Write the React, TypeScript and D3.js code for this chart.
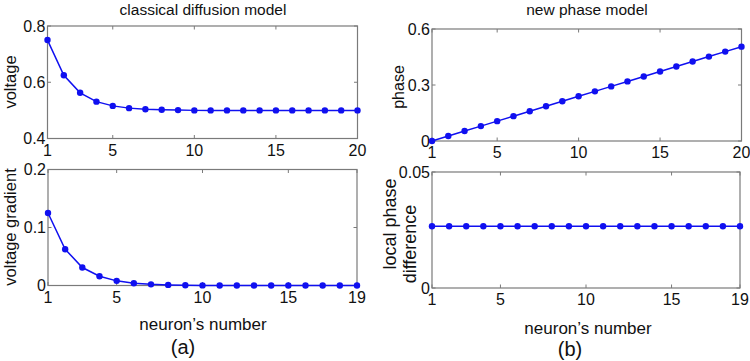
import React from "react";
import * as d3 from "d3";

// Neuron indices
const neurons20 = d3.range(1, 21);
const neurons19 = d3.range(1, 20);

// Classical diffusion model
const voltage = [0.75, 0.625, 0.5625, 0.531, 0.516, 0.508, 0.504, 0.502, 0.501, 0.5, 0.5, 0.5, 0.5, 0.5, 0.5, 0.5, 0.5, 0.5, 0.5, 0.5];
const voltageGradient = [0.125, 0.0625, 0.031, 0.016, 0.008, 0.004, 0.002, 0.001, 0.0005, 0.0002, 0.0001, 0, 0, 0, 0, 0, 0, 0, 0];

// New phase model
const phase = [0, 0.0266, 0.0532, 0.0798, 0.1064, 0.133, 0.1596, 0.1862, 0.2128, 0.2394, 0.266, 0.2926, 0.3192, 0.3458, 0.3724, 0.399, 0.4256, 0.4522, 0.4788, 0.5054];
const localPhaseDiff = [0.0266, 0.0266, 0.0266, 0.0266, 0.0266, 0.0266, 0.0266, 0.0266, 0.0266, 0.0266, 0.0266, 0.0266, 0.0266, 0.0266, 0.0266, 0.0266, 0.0266, 0.0266, 0.0266];

const xTicks20 = [1, 5, 10, 15, 20];
const xTicks19 = [1, 5, 10, 15, 19];
const yTicksVoltage = [0.4, 0.6, 0.8];
const yTicksGradient = [0, 0.1, 0.2];
const yTicksPhase = [0, 0.3, 0.6];
const yTicksDiff = [0, 0.05];

const FONT = "'Liberation Sans', Arial, Helvetica, sans-serif";
const AXIS = "#7a7a7a";
const BLUE = "#1010f0";
const INK = "#111";

type PanelProps = {
  x0: number; x1: number; y0: number; y1: number;
  xs: number[]; ys: number[];
  xDomain: [number, number]; yDomain: [number, number];
  xTicks: number[]; yTicks: number[];
};

function Panel({ x0, x1, y0, y1, xs, ys, xDomain, yDomain, xTicks, yTicks }: PanelProps) {
  const x = d3.scaleLinear().domain(xDomain).range([x0, x1]);
  const y = d3.scaleLinear().domain(yDomain).range([y1, y0]);
  const pts = xs.map((v, i) => [x(v), y(ys[i])] as [number, number]);
  const line = d3.line()(pts) || "";
  const tl = 3.5;
  return (
    <g>
      <rect x={x0} y={y0} width={x1 - x0} height={y1 - y0} fill="#fff" stroke={AXIS} strokeWidth={1.2} />
      {xTicks.map((t) => (
        <g key={"x" + t}>
          <line x1={x(t)} x2={x(t)} y1={y1} y2={y1 - tl} stroke={AXIS} strokeWidth={1} />
          <line x1={x(t)} x2={x(t)} y1={y0} y2={y0 + tl} stroke={AXIS} strokeWidth={1} />
          <text x={x(t)} y={y1 + 17} textAnchor="middle" fontSize={16} fontFamily={FONT} fill={INK}>{t}</text>
        </g>
      ))}
      {yTicks.map((t) => (
        <g key={"y" + t}>
          <line x1={x0} x2={x0 + tl} y1={y(t)} y2={y(t)} stroke={AXIS} strokeWidth={1} />
          <line x1={x1} x2={x1 - tl} y1={y(t)} y2={y(t)} stroke={AXIS} strokeWidth={1} />
          <text x={x0 - 2} y={y(t) + 5.5} textAnchor="end" fontSize={16} fontFamily={FONT} fill={INK}>{t}</text>
        </g>
      ))}
      <path d={line} fill="none" stroke={BLUE} strokeWidth={1.5} />
      {pts.map((p, i) => (
        <circle key={i} cx={p[0]} cy={p[1]} r={3.2} fill={BLUE} />
      ))}
    </g>
  );
}

function VLabel({ x, y, size, children }: { x: number; y: number; size: number; children: React.ReactNode }) {
  return (
    <text transform={`translate(${x},${y}) rotate(-90)`} textAnchor="middle" fontSize={size} fontFamily={FONT} fill={INK}>
      {children}
    </text>
  );
}

export default function App() {
  return (
    <svg width={750} height={361} style={{ position: "absolute", left: 0, top: 0, background: "#fff" }}>
      <rect width={750} height={361} fill="#fff" />
      <text x={203} y={15} textAnchor="middle" fontSize={15.5} fontFamily={FONT} fill={INK}>classical diffusion model</text>
      <text x={587} y={15} textAnchor="middle" fontSize={15.5} fontFamily={FONT} fill={INK}>new phase model</text>

      <Panel x0={47.5} x1={357.5} y0={26} y1={138.5} xs={neurons20} ys={voltage} xDomain={[1, 20]} yDomain={[0.4, 0.8]} xTicks={xTicks20} yTicks={yTicksVoltage} />
      <Panel x0={48} x1={357} y0={169.5} y1={285.5} xs={neurons19} ys={voltageGradient} xDomain={[1, 19]} yDomain={[0, 0.2]} xTicks={xTicks19} yTicks={yTicksGradient} />
      <Panel x0={432} x1={741.5} y0={29} y1={141} xs={neurons20} ys={phase} xDomain={[1, 20]} yDomain={[0, 0.6]} xTicks={xTicks20} yTicks={yTicksPhase} />
      <Panel x0={432} x1={740} y0={172} y1={288} xs={neurons19} ys={localPhaseDiff} xDomain={[1, 19]} yDomain={[0, 0.05]} xTicks={xTicks19} yTicks={yTicksDiff} />

      <VLabel x={15.5} y={82} size={16.5}>voltage</VLabel>
      <VLabel x={15.5} y={227} size={16.5}>voltage gradient</VLabel>
      <VLabel x={403.5} y={87} size={16}>phase</VLabel>
      <VLabel x={396} y={224} size={18}>local phase</VLabel>
      <VLabel x={416} y={244} size={18}>difference</VLabel>

      <text x={203} y={330} textAnchor="middle" fontSize={17} fontFamily={FONT} fill={INK}>neuron’s number</text>
      <text x={588} y={334} textAnchor="middle" fontSize={17} fontFamily={FONT} fill={INK}>neuron’s number</text>
      <text x={183} y={354} textAnchor="middle" fontSize={20} fontFamily={FONT} fill={INK}>(a)</text>
      <text x={570} y={356} textAnchor="middle" fontSize={20} fontFamily={FONT} fill={INK}>(b)</text>
    </svg>
  );
}
